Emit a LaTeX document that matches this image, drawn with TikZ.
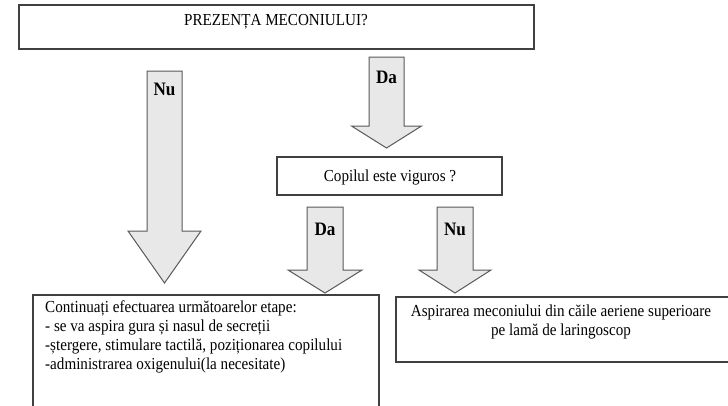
\documentclass[tikz,border=0pt]{standalone}
\usepackage{fontspec}
\setmainfont{Liberation Serif}[FakeStretch=0.9]
\begin{document}
\begin{tikzpicture}[x=1pt,y=-1pt,
  box/.style={draw=black!75, line width=1.3pt, fill=white},
  txt/.style={font=\fontsize{16.8}{19}\selectfont, inner sep=0pt},
  lbl/.style={font=\fontsize{19}{21}\selectfont\bfseries, inner sep=0pt},
  barrow/.style={draw=black!65, line width=1pt, fill=black!9, line join=miter}]
\useasboundingbox (0,0) rectangle (728,405);
\clip (0,0) rectangle (728,405);

% block arrow: centre x, top, start of head, tip, shaft half width, head half width
\newcommand\blockarrow[7]{%
  \draw[barrow] (#1-#5,#2) -- (#1+#5,#2) -- (#1+#5,#3) -- (#1+#6,#3)
    -- (#1,#4) coordinate (#7tip) -- (#1-#6,#3) -- (#1-#5,#3) -- cycle;
  \coordinate (#7top) at (#1,#2);}

% question boxes
\draw[box] (19,5) rectangle (534,49);
\node[txt] (q1) at (276,22) {PREZENȚA MECONIULUI?};
\draw[box] (277,157) rectangle (502,195);
\node[txt] (q2) at (390,177) {Copilul este viguros ?};

% action boxes
\draw[box] (33,295) rectangle (379,420);
\node[txt, anchor=north west, align=left] (a1) at (45,300)
  {Continuați efectuarea următoarelor etape:\\
   - se va aspira gura și nasul de secreții\\
   -ștergere, stimulare tactilă, poziționarea copilului\\
   -administrarea oxigenului(la necesitate)};
\draw[box] (396,297) rectangle (740,362);
\node[txt, align=center] (a2) at (561,322)
  {Aspirarea meconiului din căile aeriene superioare\\ pe lamă de laringoscop};

% arrows
\blockarrow{164.5}{71}{231}{283}{17.5}{36.5}{nu1}
\node[lbl] (nu1lbl) at (164.5,89) {Nu};
\blockarrow{386.5}{57}{126}{148}{17.5}{35}{da1}
\node[lbl] (da1lbl) at (386.5,77) {Da};
\blockarrow{325}{207}{270}{293}{18}{37}{da2}
\node[lbl] (da2lbl) at (325,229) {Da};
\blockarrow{455}{207}{270}{293}{18}{36}{nu2}
\node[lbl] (nu2lbl) at (455,229) {Nu};
\end{tikzpicture}
\end{document}
